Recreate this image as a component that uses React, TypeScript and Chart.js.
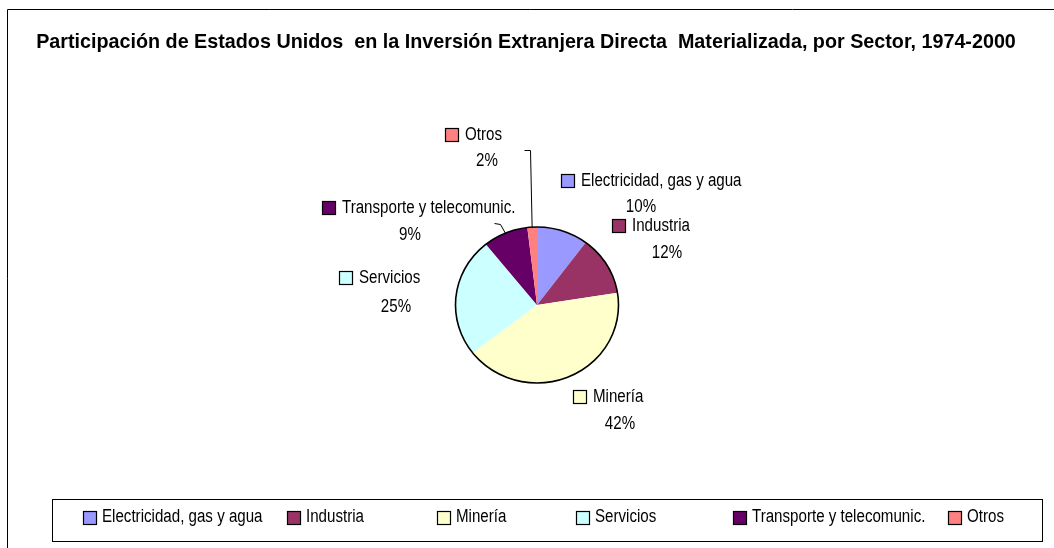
import React, { useEffect, useRef } from "react";
import { Chart, registerables } from "chart.js";

Chart.register(...registerables);

// ---- data ----
const TITLE =
  "Participación de Estados Unidos  en la Inversión Extranjera Directa  Materializada, por Sector, 1974-2000";
const categories = [
  "Electricidad, gas y agua",
  "Industria",
  "Minería",
  "Servicios",
  "Transporte y telecomunic.",
  "Otros",
];
const shares = [10.2, 12.3, 42.0, 24.7, 8.9, 1.9];

// ---- styles / layout ----
const colors = ["#9999FF", "#993366", "#FFFFCC", "#CCFFFF", "#660066", "#FF8080"];
const FONT = '"Liberation Sans", Arial, sans-serif';
const TEXT_SX = 0.84; // narrow (Arial Narrow-like) text
const TITLE_SX = 0.94;
const W = 1054;
const H = 548;
const PIE_SX = 1.045; // horizontal stretch of the pie
// label placement relative to pie centre: [swatchLeft dx, line1 dy, pct centre dx, line2 dy]
const labelLayout = [
  [24, -124, 104, -98],
  [75, -79, 130, -52],
  [36, 92, 83, 119],
  [-198, -27, -141, 2],
  [-215, -97, -127, -70],
  [-92, -170, -50, -144],
];
// leader lines: extra points relative to pie centre (after the arc edge point)
const leaders: Record<number, number[][]> = {
  4: [[-37, -81], [-43, -82]],
  5: [[-7, -155], [-13, -155]],
};
const legendX = [83, 287, 437, 576, 733, 948];

const drawSwatch = (ctx: CanvasRenderingContext2D, x: number, y: number, s: number, c: string) => {
  ctx.fillStyle = c;
  ctx.fillRect(x, y, s, s);
  ctx.strokeStyle = "#000";
  ctx.lineWidth = 1.2;
  ctx.strokeRect(x + 0.5, y + 0.5, s - 1, s - 1);
};

const drawText = (
  ctx: CanvasRenderingContext2D,
  text: string,
  x: number,
  y: number,
  align: CanvasTextAlign,
  font: string,
  sx: number
) => {
  ctx.save();
  ctx.font = font;
  ctx.fillStyle = "#000";
  ctx.textAlign = align;
  ctx.textBaseline = "middle";
  ctx.translate(x, y);
  ctx.scale(sx, 1);
  ctx.fillText(text, 0, 0);
  ctx.restore();
};

const decorPlugin = {
  id: "decor",
  beforeDatasetsDraw(chart: any) {
    const meta = chart.getDatasetMeta(0);
    const a = meta.data[0];
    const ctx = chart.ctx;
    ctx.save();
    ctx.translate(a.x, a.y);
    ctx.scale(PIE_SX, 1);
    ctx.translate(-a.x, -a.y);
  },
  afterDatasetsDraw(chart: any) {
    const ctx = chart.ctx;
    const meta = chart.getDatasetMeta(0);
    const a = meta.data[0];
    ctx.beginPath();
    ctx.arc(a.x, a.y, a.outerRadius, 0, Math.PI * 2);
    ctx.restore();
    ctx.save();
    ctx.strokeStyle = "#000";
    ctx.lineWidth = 1.6;
    ctx.stroke();
    ctx.restore();
  },
  afterDraw(chart: any) {
    const ctx: CanvasRenderingContext2D = chart.ctx;
    const meta = chart.getDatasetMeta(0);
    const a0 = meta.data[0];
    const cx = a0.x;
    const cy = a0.y;
    const total = shares.reduce((s, v) => s + v, 0);
    ctx.save();

    // frame
    ctx.strokeStyle = "#000";
    ctx.lineWidth = 1;
    ctx.beginPath();
    ctx.moveTo(7.5, H);
    ctx.lineTo(7.5, 9.5);
    ctx.lineTo(W, 9.5);
    ctx.stroke();

    // title
    drawText(ctx, TITLE, 526, 42, "center", `bold 21px ${FONT}`, TITLE_SX);

    // leader lines
    ctx.strokeStyle = "#000";
    ctx.lineWidth = 1;
    Object.keys(leaders).forEach((k) => {
      const i = Number(k);
      const arc = meta.data[i];
      const mid = (arc.startAngle + arc.endAngle) / 2;
      const r = arc.outerRadius;
      ctx.beginPath();
      ctx.moveTo(cx + Math.cos(mid) * r * PIE_SX, cy + Math.sin(mid) * r);
      leaders[i].forEach(([dx, dy]) => ctx.lineTo(cx + dx + 0.5, cy + dy + 0.5));
      ctx.stroke();
    });

    // data labels
    const f = `18px ${FONT}`;
    categories.forEach((name, i) => {
      const [sx, y1, px, y2] = labelLayout[i];
      drawSwatch(ctx, cx + sx, cy + y1 - 7, 14, colors[i]);
      drawText(ctx, name, cx + sx + 20, cy + y1, "left", f, TEXT_SX);
      drawText(ctx, Math.round((shares[i] / total) * 100) + "%", cx + px, cy + y2, "center", f, TEXT_SX);
    });

    // legend box
    ctx.strokeStyle = "#000";
    ctx.lineWidth = 1;
    ctx.strokeRect(52.5, 499.5, 990, 42);
    categories.forEach((name, i) => {
      const x = legendX[i];
      drawSwatch(ctx, x, 511, 14, colors[i]);
      drawText(ctx, name, x + 19, 517, "left", f, TEXT_SX);
    });
    ctx.restore();
  },
};

export default function App() {
  const ref = useRef<HTMLCanvasElement>(null);
  useEffect(() => {
    if (!ref.current) return;
    const cx = 537;
    const cy = 305;
    const r = 78;
    const chart = new Chart(ref.current, {
      type: "pie",
      data: {
        labels: categories,
        datasets: [
          {
            data: shares,
            backgroundColor: colors,
            borderWidth: 0,
          },
        ],
      },
      options: {
        responsive: false,
        animation: false,
        devicePixelRatio: 1,
        layout: {
          padding: { top: cy - r, bottom: H - (cy + r), left: cx - r, right: W - (cx + r) },
        },
        plugins: {
          legend: { display: false },
          title: { display: false },
          tooltip: { enabled: false },
        },
      },
      plugins: [decorPlugin],
    });
    return () => chart.destroy();
  }, []);
  return (
    <div style={{ position: "fixed", left: 0, top: 0, width: W, height: H, background: "#fff" }}>
      <canvas ref={ref} width={W} height={H} style={{ display: "block" }} />
    </div>
  );
}
